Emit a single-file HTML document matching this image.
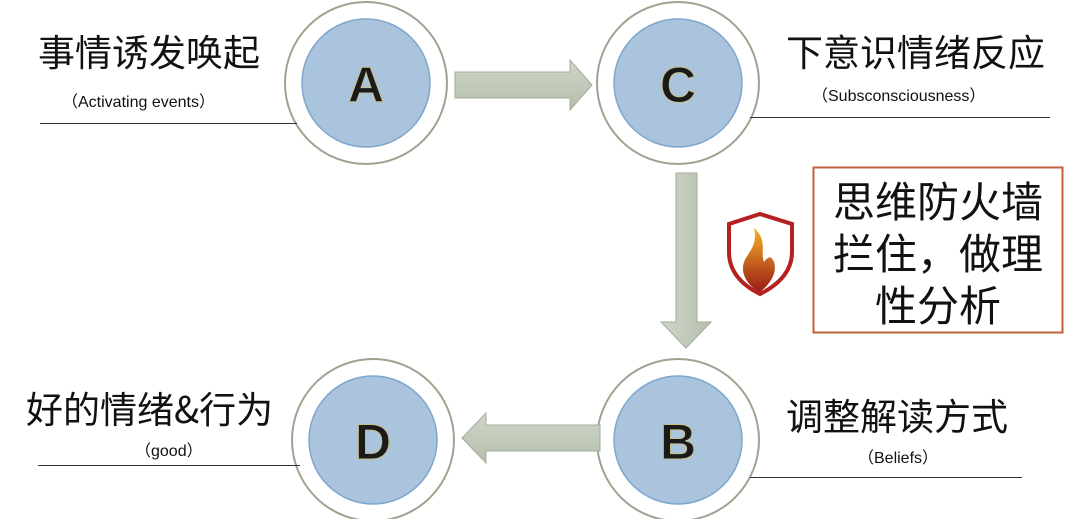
<!DOCTYPE html>
<html><head><meta charset="utf-8"><style>
body{margin:0;width:1080px;height:519px;background:#fff;overflow:hidden;position:relative;font-family:"Liberation Sans","Noto Sans CJK SC",sans-serif}
.t{position:absolute;color:#111;white-space:nowrap}
.big{font-size:37px;font-family:"Noto Sans CJK SC",sans-serif;line-height:48px}
.sm{font-size:16px}
.ln{position:absolute;height:1px;background:#333}
</style></head><body>
<svg width="1080" height="519" style="position:absolute;left:0;top:0">
<defs>
<linearGradient id="g" x1="0" y1="0" x2="0" y2="1"><stop offset="0" stop-color="#cfd6c8"/><stop offset="1" stop-color="#b5bfae"/></linearGradient>
<linearGradient id="gv" x1="0" y1="0" x2="1" y2="0"><stop offset="0" stop-color="#cfd6c8"/><stop offset="1" stop-color="#b5bfae"/></linearGradient>
<linearGradient id="fl" x1="0" y1="0" x2="0" y2="1"><stop offset="0" stop-color="#f5b32a"/><stop offset="1" stop-color="#9b1a16"/></linearGradient>
</defs>
<g fill="#fff" stroke="#9aa58f" stroke-width="2">
<circle cx="366" cy="83" r="81"/><circle cx="678" cy="83" r="81"/>
<circle cx="678" cy="440" r="81"/><circle cx="373" cy="440" r="81"/>
</g>
<g fill="#a9c4dc" stroke="#7fa6cc" stroke-width="1.5">
<circle cx="366" cy="83" r="64"/><circle cx="678" cy="83" r="64"/>
<circle cx="678" cy="440" r="64"/><circle cx="373" cy="440" r="64"/>
</g>
<g font-family="Liberation Sans" font-weight="bold" font-size="50" text-anchor="middle" fill="#1a1a1a" stroke="#c8c08a" stroke-width="1">
<text x="366" y="102">A</text><text x="678" y="102">C</text>
<text x="678" y="459">B</text><text x="373" y="459">D</text>
</g>
<path d="M455 72H570V60L592 85L570 110V98H455Z" fill="url(#g)" stroke="#a3ad99"/>
<path d="M676 173H697V322H711L686 348L661 322H676Z" fill="url(#gv)" stroke="#a3ad99"/>
<path d="M600 425H486V413L462 438L486 463V451H600Z" fill="url(#g)" stroke="#a3ad99"/>
<path d="M760 214L792 224V252C792 272 778 285 760 294C742 285 729 272 729 252V224Z" fill="#fff" stroke="#b52020" stroke-width="4"/>
<path d="M754 228C768 240 760 252 764 262C770 254 772 258 774 262C778 274 768 286 760 292C748 286 740 274 744 262C748 252 758 246 754 228Z" fill="url(#fl)"/>
<rect x="813.5" y="167.5" width="249" height="165" fill="none" stroke="#c0603a" stroke-width="2"/>
</svg>
<div class="ln" style="left:40px;top:123px;width:257px"></div>
<div class="ln" style="left:750px;top:117px;width:300px"></div>
<div class="ln" style="left:38px;top:465px;width:262px"></div>
<div class="ln" style="left:750px;top:477px;width:272px"></div>
<div class="t big" style="left:38px;top:26px">事情诱发唤起</div>
<div class="t sm" style="left:62px;top:88px">（Activating events）</div>
<div class="t big" style="left:786px;top:26px">下意识情绪反应</div>
<div class="t sm" style="left:812px;top:82px">（Subsconsciousness）</div>
<div class="t big" style="left:26px;top:383px">好的情绪&amp;行为</div>
<div class="t sm" style="left:135px;top:437px">（good）</div>
<div class="t big" style="left:786px;top:390px">调整解读方式</div>
<div class="t sm" style="left:858px;top:444px">（Beliefs）</div>
<div class="t big" style="left:830px;top:174px;font-size:42px;line-height:52px;text-align:center;width:216px;white-space:normal">思维防火墙拦住，做理性分析</div>
</body></html>
